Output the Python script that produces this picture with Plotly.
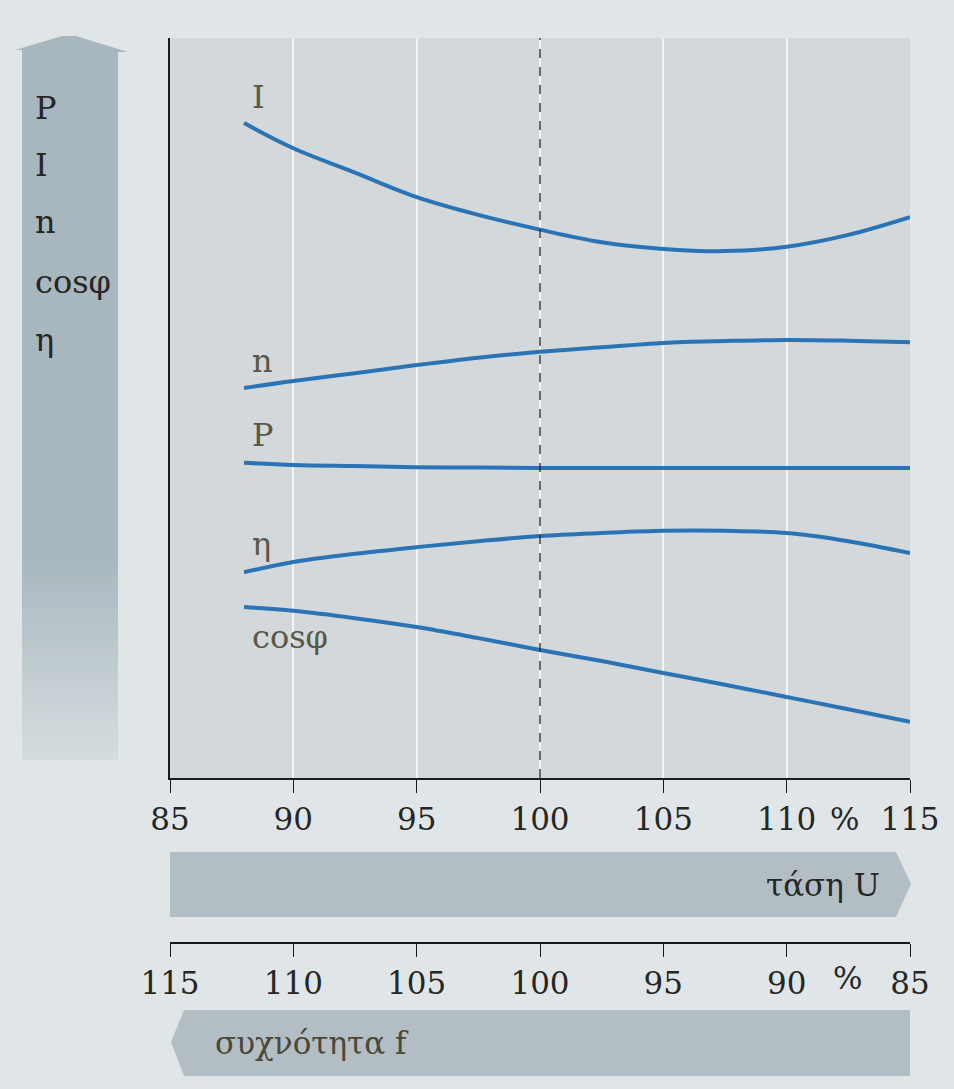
import plotly.graph_objects as go

# ---- data (x in % of rated voltage, y in arbitrary units 0-100) ----
x_I = [88, 90, 92.5, 95, 97.5, 100, 102.5, 105, 107.5, 110, 112.5, 115]
y_I = [88.5, 85.1, 81.8, 78.5, 76.1, 74.1, 72.4, 71.5, 71.2, 71.8, 73.4, 75.8]

x_common = [88, 90, 92.5, 95, 97.5, 100, 102.5, 105, 107.5, 110, 112.5, 115]
y_n = [52.7, 53.65, 54.7, 55.8, 56.8, 57.6, 58.2, 58.8, 59.05, 59.2, 59.1, 58.9]
y_P = [42.6, 42.3, 42.15, 42.0, 41.95, 41.9, 41.9, 41.9, 41.9, 41.9, 41.9, 41.9]
y_eta = [27.8, 29.2, 30.3, 31.2, 32.0, 32.7, 33.1, 33.4, 33.4, 33.1, 32.0, 30.4]
y_cos = [23.1, 22.6, 21.6, 20.4, 18.9, 17.3, 15.8, 14.2, 12.6, 10.95, 9.3, 7.6]

voltage_ticks = [85, 90, 95, 100, 105, 110, 115]
freq_ticks = [115, 110, 105, 100, 95, 90, 85]

curve_names = ["I", "n", "P", "η", "cosφ"]
label_x = [88.25, 88.25, 88.25, 88.25, 88.25]
label_y = [92.0, 56.3, 46.3, 31.6, 19.0]
left_labels = ["P", "I", "n", "cosφ", "η"]

# ---- layout geometry (pixels) ----
W, H = 954, 1089
L, R, T, B = 170, 910, 38, 943
AX_Y = 778
PW, PH = R - L, B - T


def X(px):
    return (px - L) / PW


def Y(py):
    return (B - py) / PH


LINE = "#2a74b6"
FONT = "DejaVu Serif"
PAGE = "#e0e6e8"
PLOT = "#d3d8da"
BAND = "#b3bec4"
LEFTBAND = "#a8b6bd"
TXT = "#262626"

fig = go.Figure()
series = [(x_I, y_I), (x_common, y_n), (x_common, y_P), (x_common, y_eta), (x_common, y_cos)]
for name, (xs, ys) in zip(curve_names, series):
    fig.add_trace(go.Scatter(x=xs, y=ys, mode="lines", name=name,
                             line=dict(color=LINE, width=4, shape="spline", smoothing=1.0),
                             showlegend=False, hoverinfo="skip"))
fig.add_trace(go.Scatter(x=[freq_ticks[0], freq_ticks[-1]], y=[None, None], xaxis="x2", yaxis="y",
                         showlegend=False, hoverinfo="skip"))

shapes = []
shapes.append(dict(type="path", xref="paper", yref="paper",
                   path=f"M {X(22)} {Y(560)} L {X(22)} {Y(50)} L {X(15)} {Y(50)} L {X(62)} {Y(36)} "
                        f"L {X(76)} {Y(36)} L {X(128)} {Y(52)} L {X(118)} {Y(52)} L {X(118)} {Y(560)} Z",
                   fillcolor=LEFTBAND, line=dict(width=0), layer="below"))
fade_steps = 25
for i in range(fade_steps):
    top = 560 + i * 8
    shapes.append(dict(type="rect", xref="paper", yref="paper", x0=X(22), x1=X(118),
                       y0=Y(top + 8), y1=Y(top), fillcolor=LEFTBAND,
                       opacity=1 - (i + 1) / (fade_steps + 6), line=dict(width=0), layer="below"))
shapes.append(dict(type="path", xref="paper", yref="paper",
                   path=f"M {X(170)} {Y(852)} L {X(896)} {Y(852)} L {X(911)} {Y(884)} "
                        f"L {X(896)} {Y(917)} L {X(170)} {Y(917)} Z",
                   fillcolor=BAND, line=dict(width=0), layer="below"))
shapes.append(dict(type="path", xref="paper", yref="paper",
                   path=f"M {X(184)} {Y(1010)} L {X(910)} {Y(1010)} L {X(910)} {Y(1076)} "
                        f"L {X(184)} {Y(1076)} L {X(171)} {Y(1042)} Z",
                   fillcolor=BAND, line=dict(width=0), layer="below"))
shapes.append(dict(type="line", xref="x", yref="y domain", x0=100, x1=100, y0=0, y1=1,
                   line=dict(color="#222222", width=1.3, dash="dash")))
fig.update_layout(shapes=shapes)

ann = []
for name, lx, ly in zip(curve_names, label_x, label_y):
    ann.append(dict(x=lx, y=ly, xref="x", yref="y", text=name, showarrow=False,
                    xanchor="left", yanchor="middle",
                    font=dict(family=FONT, size=32, color="#5a5848")))
left_y = [108, 165, 222, 282, 340]
for t, py in zip(left_labels, left_y):
    ann.append(dict(x=X(33), y=Y(py), xref="paper", yref="paper", text=t, showarrow=False,
                    xanchor="left", yanchor="middle",
                    font=dict(family=FONT, size=32, color=TXT)))
ann.append(dict(x=112.35, y=Y(819), xref="x", yref="paper", text="%", showarrow=False,
                xanchor="center", yanchor="middle", font=dict(family=FONT, size=31, color=TXT)))
ann.append(dict(x=87.55, y=Y(978), xref="x2", yref="paper", text="%", showarrow=False,
                xanchor="center", yanchor="middle", font=dict(family=FONT, size=31, color=TXT)))
ann.append(dict(x=X(882), y=Y(885), xref="paper", yref="paper", text="τάση U", showarrow=False,
                xanchor="right", yanchor="middle", font=dict(family=FONT, size=31, color=TXT)))
ann.append(dict(x=X(213), y=Y(1043), xref="paper", yref="paper", text="συχνότητα f", showarrow=False,
                xanchor="left", yanchor="middle", font=dict(family=FONT, size=31, color="#4a4838")))
fig.update_layout(annotations=ann)

fig.update_layout(
    width=W, height=H,
    margin=dict(l=L, r=W - R, t=T, b=H - B, pad=0),
    paper_bgcolor=PAGE, plot_bgcolor=PLOT,
    xaxis=dict(range=[85, 115], tickvals=voltage_ticks, ticktext=[str(v) for v in voltage_ticks],
               showgrid=True, gridcolor="#f2f4f5", gridwidth=2,
               showline=True, linecolor="#1a1a1a", linewidth=1.5,
               ticks="outside", ticklen=13, tickcolor="#1a1a1a", tickwidth=1.2,
               zeroline=False, anchor="y",
               tickfont=dict(family=FONT, size=31, color=TXT)),
    xaxis2=dict(range=[115, 85], tickvals=freq_ticks, ticktext=[str(v) for v in freq_ticks],
                overlaying="x", anchor="free", position=0, side="bottom",
                showgrid=False, showline=True, linecolor="#1a1a1a", linewidth=1.5,
                ticks="outside", ticklen=13, tickcolor="#1a1a1a", tickwidth=1.2, zeroline=False,
                tickfont=dict(family=FONT, size=31, color=TXT)),
    yaxis=dict(range=[0, 100], domain=[Y(AX_Y), 1], showgrid=False, zeroline=False,
               showline=True, linecolor="#1a1a1a", linewidth=1.5, showticklabels=False, ticks=""),
)

fig.write_html("out.html")
